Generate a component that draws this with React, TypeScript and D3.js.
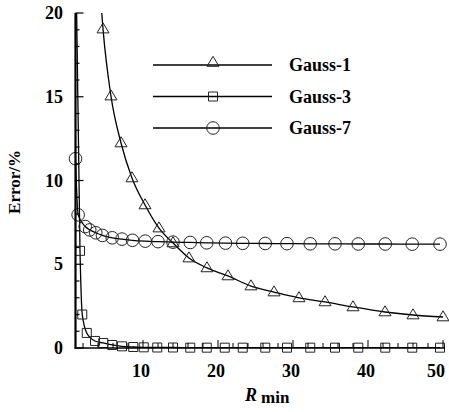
import React from "react";
import * as d3 from "d3";

// ---- data ----
const xTickLabels = [10, 20, 30, 40, 50];
const yTickLabels = [0, 5, 10, 15, 20];

const gauss1X = [4.67, 5.73, 7.07, 8.53, 10.27, 12.13, 14.0, 16.13, 18.53, 21.33, 24.4, 27.47, 30.8, 34.27, 38.0, 42.27, 46.0, 50.0];
const gauss1Y = [19.04, 15.04, 12.24, 10.15, 8.54, 7.16, 6.27, 5.37, 4.78, 4.3, 3.7, 3.34, 2.99, 2.75, 2.45, 2.15, 1.97, 1.85];
const gauss1Start = { x: 4.4, y: 20.6 }; // where the fitted curve leaves the top

const gauss3X = [1.6, 1.9, 2.5, 3.6, 4.7, 5.9, 7.2, 8.7, 10.1, 11.9, 14.0, 16.3, 18.5, 20.9, 23.3, 26.3, 29.2, 32.3, 35.6, 38.7, 42.3, 45.9, 49.6];
const gauss3Y = [5.8, 2.0, 0.9, 0.42, 0.3, 0.18, 0.1, 0.06, 0.04, 0.03, 0.03, 0.02, 0.02, 0.02, 0.02, 0.02, 0.02, 0.02, 0.02, 0.02, 0.02, 0.02, 0.02];
const gauss3Start = { x: 1.12, y: 21 };

const gauss7X = [1.0, 1.35, 2.3, 2.9, 3.7, 4.6, 5.9, 7.2, 8.6, 10.3, 12.0, 14.0, 16.3, 18.5, 21.0, 23.3, 26.3, 29.2, 32.3, 35.6, 38.7, 42.3, 45.9, 49.6];
const gauss7Y = [11.3, 7.95, 7.25, 7.05, 6.88, 6.72, 6.58, 6.5, 6.43, 6.38, 6.35, 6.32, 6.3, 6.28, 6.26, 6.25, 6.24, 6.23, 6.22, 6.22, 6.21, 6.21, 6.2, 6.2];

const seriesNames = ["Gauss-1", "Gauss-3", "Gauss-7"];

const W = 449;
const H = 412;
const font = "Liberation Serif, serif";

const xScale = d3.scaleLinear().domain([1, 50]).range([75.5, 443]);
const yScale = d3.scaleLinear().domain([0, 20]).range([348, 13]);

type Pt = { x: number; y: number };
const zip = (xs: number[], ys: number[]): Pt[] => xs.map((x, i) => ({ x, y: ys[i] }));

const line = d3
  .line<Pt>()
  .x((d) => xScale(d.x))
  .y((d) => yScale(d.y))
  .curve(d3.curveMonotoneX);

const triangle = "M0,-6.2L6,3.8L-6,3.8Z";
const square = "M-4.5,-4.5H4.5V4.5H-4.5Z";

function Marker({ kind, x, y }: { kind: number; x: number; y: number }) {
  const common = { fill: "none", stroke: "#222", strokeWidth: 1 };
  if (kind === 0) return <path d={triangle} transform={`translate(${x},${y})`} {...common} />;
  if (kind === 1) return <path d={square} transform={`translate(${x},${y})`} {...common} />;
  return <circle cx={x} cy={y} r={6.3} {...common} />;
}

const txt = { fontFamily: font, fontWeight: "bold" as const };

export default function App() {
  const series = [
    { pts: zip(gauss1X, gauss1Y), curve: [gauss1Start, ...zip(gauss1X, gauss1Y)] },
    { pts: zip(gauss3X, gauss3Y), curve: [gauss3Start, ...zip(gauss3X, gauss3Y)] },
    { pts: zip(gauss7X, gauss7Y), curve: zip(gauss7X, gauss7Y) },
  ];

  const [x0] = xScale.range();
  const [y0, y1] = yScale.range();
  const yMinor = d3.range(0, 21, 1);
  const xMinor = d3.range(2, 51, 2);

  return (
    <div style={{ position: "absolute", left: 0, top: 0 }}>
      <svg width={W} height={H} style={{ display: "block", background: "#fff" }}>
        <defs>
          <clipPath id="plot">
            <rect x={x0} y={y1} width={W - x0} height={y0 - y1} />
          </clipPath>
        </defs>

        {/* curves */}
        <g clipPath="url(#plot)">
          {series.map((s, i) => (
            <path key={i} d={line(s.curve) || ""} fill="none" stroke="#000" strokeWidth={1.3} />
          ))}
        </g>

        {/* markers */}
        {series.map((s, i) =>
          s.pts.map((p, j) => <Marker key={`${i}-${j}`} kind={i} x={xScale(p.x)} y={yScale(p.y)} />)
        )}

        {/* axes */}
        <line x1={x0} x2={x0} y1={y1} y2={y0 + 0.5} stroke="#000" strokeWidth={2.2} />
        <line x1={x0 - 1} x2={445} y1={y0} y2={y0} stroke="#000" strokeWidth={1.5} />
        {yMinor.map((v) => (
          <line
            key={v}
            x1={x0}
            x2={x0 + (v % 5 === 0 ? 8 : 4)}
            y1={yScale(v)}
            y2={yScale(v)}
            stroke="#000"
            strokeWidth={1.2}
          />
        ))}
        {xMinor.map((v) => (
          <line
            key={v}
            x1={xScale(v)}
            x2={xScale(v)}
            y1={y0}
            y2={y0 - (v % 10 === 0 ? 8 : 5)}
            stroke="#000"
            strokeWidth={1}
          />
        ))}
        {yTickLabels.map((v) => (
          <text key={v} x={63} y={yScale(v) + 6} textAnchor="end" fontSize={18} style={txt}>
            {v}
          </text>
        ))}
        {xTickLabels.map((v) => (
          <text key={v} x={Math.min(xScale(v) - 2, 436)} y={377} textAnchor="middle" fontSize={18} style={txt}>
            {v}
          </text>
        ))}

        {/* axis titles */}
        <text transform={`translate(20,${182}) rotate(-90)`} textAnchor="middle" fontSize={17} style={txt}>
          Error/%
        </text>
        <text x={245} y={401} fontSize={18} style={txt}>
          <tspan fontStyle="italic">R</tspan>
          <tspan dx={4} dy={2} fontSize={17}>min</tspan>
        </text>

        {/* legend */}
        {seriesNames.map((name, i) => {
          const ly = 65 + i * 31.5;
          return (
            <g key={name}>
              <line x1={153} x2={272} y1={ly} y2={ly} stroke="#000" strokeWidth={1.3} />
              <Marker kind={i} x={213} y={i === 0 ? ly - 2.5 : ly} />
              <text x={289} y={ly + 6} fontSize={18} style={txt}>
                {name}
              </text>
            </g>
          );
        })}
      </svg>
    </div>
  );
}
